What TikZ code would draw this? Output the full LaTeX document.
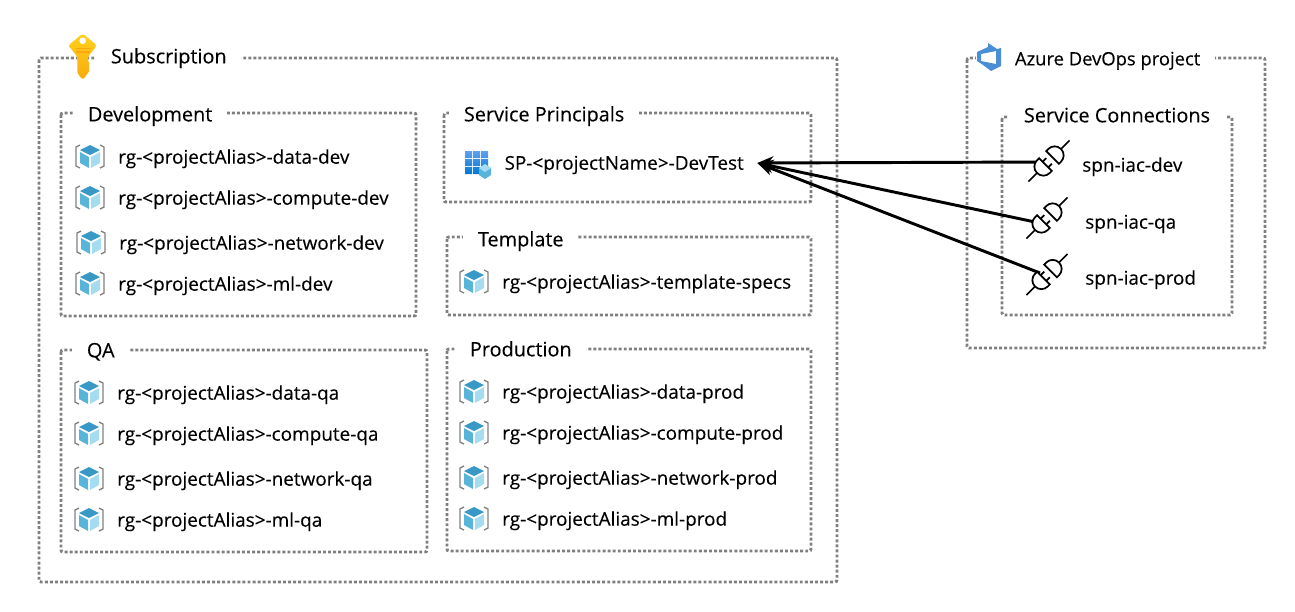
\documentclass[tikz,border=0pt]{standalone}
\usepackage{fontspec}
\setmainfont{Open Sans}[FakeBold=0.2]
\usetikzlibrary{arrows.meta}
\definecolor{dotgrey}{HTML}{7F7F7F}
\definecolor{cubetop}{HTML}{3999C6}
\definecolor{cubeleft}{HTML}{59B4D9}
\definecolor{cuberight}{HTML}{A5DCEF}
\definecolor{gridtop}{HTML}{5EA0EF}
\definecolor{gridbottom}{HTML}{0078D4}
\definecolor{adoblue}{HTML}{4A8FD6}
\definecolor{keygold}{HTML}{FFD11A}
\definecolor{keydark}{HTML}{F9A90F}
\tikzset{
  groupbox/.style = {draw=dotgrey, line width=2.2pt, dash pattern=on 2.2pt off 1.6pt, rounded corners=1.5pt},
  grouptitle/.style = {fill=white, inner xsep=11pt, inner ysep=1pt, anchor=west, text height=14pt, text depth=3pt, font=\fontsize{14.9}{16}\selectfont},
  itemlabel/.style = {inner sep=0pt, anchor=west, text height=13pt, text depth=3pt, font=\fontsize{14.2}{16}\selectfont},
  wire/.style = {<-, >={Stealth[length=12pt, width=10pt]}, line width=2.2pt},
  rgicon/.pic = {
    \fill[cubetop] (0,-12) -- (10,-7) -- (0,-2) -- (-10,-7) -- cycle;
    \fill[cubeleft] (-10,-5) -- (-1,0) -- (-1,11) -- (-10,6) -- cycle;
    \fill[cuberight] (10,-5) -- (1,0) -- (1,11) -- (10,6) -- cycle;
    \draw[gray, line width=1pt] (-10,-12) -- (-14,-10) -- (-14,9) -- (-10,11);
    \draw[gray, line width=1pt] (10,-12) -- (14,-10) -- (14,9) -- (10,11);
  },
  plugicon/.pic = {
    \draw[line width=1.3pt, fill=white] (-5,-9) -- (-5,9) -- (-8,9) arc [start angle=90, end angle=270, radius=9] -- cycle;
    \draw[line width=1.3pt, fill=white] (5,9) -- (5,-9) -- (8,-9) arc [start angle=-90, end angle=90, radius=9] -- cycle;
    \draw[line width=1.3pt] (-29,0) -- (-17,0) (17,0) -- (29,0) (-5,-4) -- (0,-4) (-5,4) -- (0,4);
  }
}
\begin{document}
\begin{tikzpicture}[x=0.75pt, y=-0.75pt]
\useasboundingbox (0,0) rectangle (1295,611);
% outer boxes
\draw[groupbox] (39,58) rectangle (837,582);
\draw[groupbox] (967,58) rectangle (1265,348);
\draw[groupbox] (61,113) rectangle (416,316);
\draw[groupbox] (444,113) rectangle (811,202);
\draw[groupbox] (447,237) rectangle (811,315);
\draw[groupbox] (61,350) rectangle (427,552);
\draw[groupbox] (447,349) rectangle (811,551);
\draw[groupbox] (1002,117) rectangle (1232,315);
% titles
\node[grouptitle] (subscription) at (96,56) {Subscription};
\node[grouptitle, font=\fontsize{13.8}{16}\selectfont] (devopsproject) at (1000,58) {Azure DevOps project};
\node[grouptitle] (development) at (73,114) {Development};
\node[grouptitle] (serviceprincipals) at (449,114) {Service Principals};
\node[grouptitle] (template) at (463,239) {Template};
\node[grouptitle] (qa) at (72,350) {QA};
\node[grouptitle] (production) at (455,349) {Production};
\node[grouptitle] (serviceconnections) at (1009,115) {Service Connections};
% key
\shade[top color=keygold, bottom color=keydark, rounded corners=2pt] (82.7,33.5) -- (97,45.5) -- (88,56.5) -- (88,62) -- (90,64) -- (88,67) -- (90,70) -- (88,73) -- (82.7,80) -- (77.3,73) -- (77.3,56.5) -- (68.3,45.5) -- cycle;
\fill[white] (82.7,40.7) circle [radius=3.3];
\draw[keydark, line width=0.8pt] (76,48.7) -- (90,48.7) (76,52) -- (90,52);
% devops logo
\fill[white] (976,52) rectangle (1002,64);
\fill[adoblue, even odd rule] (988,43) -- (997,49) -- (1001,48) -- (1001,66) -- (991,71) -- (983,65) -- (977,61) -- (977,52) -- (988,47) -- cycle (981,54) -- (996,51) -- (996,64) -- (981,61) -- cycle;
% development
\pic at (90,157) {rgicon};
\node[itemlabel] (datadev) at (118,157) {rg-<projectAlias>-data-dev};
\pic at (90,198) {rgicon};
\node[itemlabel] (computedev) at (118,198) {rg-<projectAlias>-compute-dev};
\pic at (91,243) {rgicon};
\node[itemlabel] (networkdev) at (119,243) {rg-<projectAlias>-network-dev};
\pic at (90,284) {rgicon};
\node[itemlabel] (mldev) at (118,284) {rg-<projectAlias>-ml-dev};
% qa
\pic at (89,393) {rgicon};
\node[itemlabel] (dataqa) at (117,393) {rg-<projectAlias>-data-qa};
\pic at (89,434) {rgicon};
\node[itemlabel] (computeqa) at (117,434) {rg-<projectAlias>-compute-qa};
\pic at (89,479) {rgicon};
\node[itemlabel] (networkqa) at (117,479) {rg-<projectAlias>-network-qa};
\pic at (89,520) {rgicon};
\node[itemlabel] (mlqa) at (117,520) {rg-<projectAlias>-ml-qa};
% template
\pic at (474,282) {rgicon};
\node[itemlabel] (templatespecs) at (502,282) {rg-<projectAlias>-template-specs};
% production
\pic at (474,392) {rgicon};
\node[itemlabel] (dataprod) at (502,392) {rg-<projectAlias>-data-prod};
\pic at (474,433) {rgicon};
\node[itemlabel] (computeprod) at (502,433) {rg-<projectAlias>-compute-prod};
\pic at (474,478) {rgicon};
\node[itemlabel] (networkprod) at (502,478) {rg-<projectAlias>-network-prod};
\pic at (474,519) {rgicon};
\node[itemlabel] (mlprod) at (502,519) {rg-<projectAlias>-ml-prod};
% service principal
\shade[top color=gridtop, bottom color=gridbottom] (465,151) rectangle ++(7,7) (473,151) rectangle ++(7,7) (481,151) rectangle ++(7,7) (465,159) rectangle ++(7,7) (473,159) rectangle ++(7,7) (481,159) rectangle ++(7,7) (465,167) rectangle ++(7,7) (473,167) rectangle ++(7,7) (481,167) rectangle ++(7,7);
\fill[cubeleft] (485,164) -- (491,168) -- (491,175) -- (485,179) -- (479,175) -- (479,168) -- cycle;
\fill[cuberight] (485,164) -- (491,168) -- (485,172) -- (479,168) -- cycle;
\node[itemlabel, inner xsep=10pt] (spname) at (491,163) {SP-<projectName>-DevTest};
% service connections
\coordinate (wiredev) at (1042,162);
\coordinate (wireqa) at (1035,222);
\coordinate (wireprod) at (1040,273);
\draw[wire] (spname.east) -- (wiredev);
\draw[wire] (spname.east) -- (wireqa);
\draw[wire] (spname.east) -- (wireprod);
\pic[rotate=45] at (1049,161) {plugicon};
\pic[rotate=45] at (1047,218) {plugicon};
\pic[rotate=45] at (1047,274.5) {plugicon};
\node[itemlabel] (spndev) at (1082,165) {spn-iac-dev};
\node[itemlabel] (spnqa) at (1085,222) {spn-iac-qa};
\node[itemlabel] (spnprod) at (1085,278) {spn-iac-prod};
\end{tikzpicture}
\end{document}
